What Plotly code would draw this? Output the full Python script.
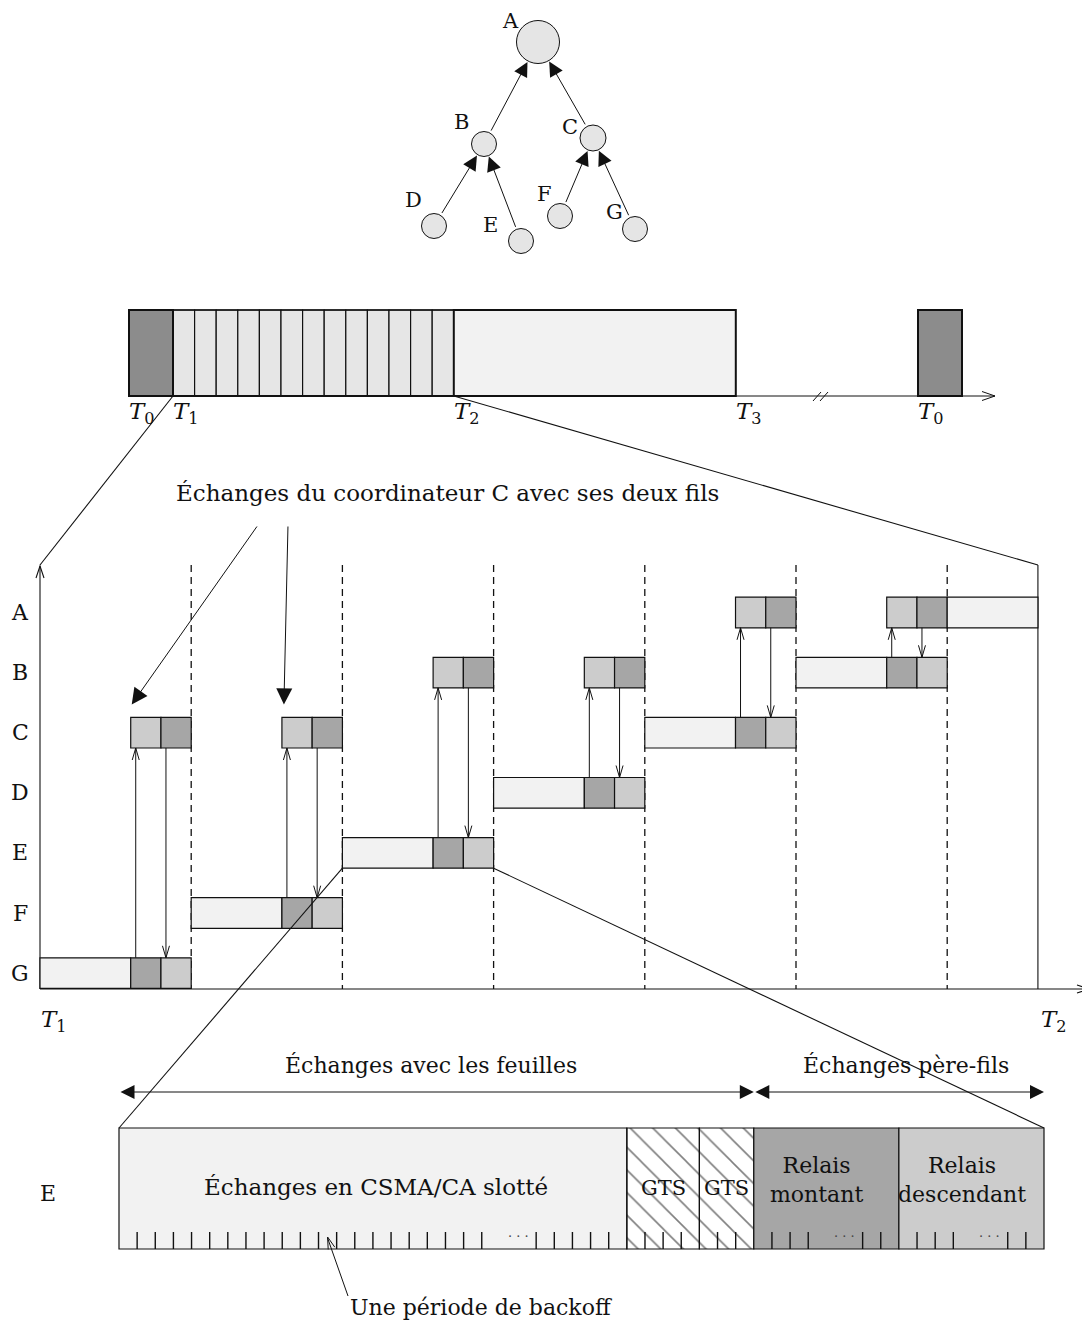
import math
import plotly.graph_objects as go

# ---------------- data ----------------
tree_nodes = ["A", "B", "C", "D", "E", "F", "G"]
tree_parent = [None, "A", "A", "B", "B", "C", "C"]

rows = ["A", "B", "C", "D", "E", "F", "G"]
slot_child = ["G", "F", "E", "D", "C", "B"]
slot_parent = ["C", "C", "B", "B", "A", "A"]
last_slot_node = "A"

top_cap_slots = 13
top_labels = ["T<sub>0</sub>", "T<sub>1</sub>", "T<sub>2</sub>", "T<sub>3</sub>", "T<sub>0</sub>"]

bottom_segments = ["Échanges en CSMA/CA slotté", "GTS", "GTS", "Relais<br>montant", "Relais<br>descendant"]
bottom_periods = [28, 4, 3, 8, 8]
bottom_skipped = [21, 22, 39, 40, 47, 48]
bottom_groups = ["Échanges avec les feuilles", "Échanges père-fils"]

title_text = "Échanges du coordinateur C avec ses deux fils"
backoff_text = "Une période de backoff"

# ---------------- layout constants ----------------
FONT = "DejaVu Serif"
PAGE_OFF = 8  # browser body margin
TREE_POS = {"A": (538, 42, 21.5), "B": (484, 144, 12.5), "C": (593, 138, 13),
            "D": (434, 226, 12.5), "E": (521, 241, 12.5), "F": (560, 216, 12.5),
            "G": (635, 229, 12.5)}
TREE_LAB = {"A": (510, 21), "B": (461, 122), "C": (570, 127), "D": (413, 200),
            "E": (490, 225), "F": (544, 194), "G": (614, 212)}

C_BEACON = "#8c8c8c"
C_SLOT = "#e6e6e6"
C_LIGHT = "#f2f2f2"
C_DARK = "#a6a6a6"
C_MID = "#cccccc"

shapes = []
annotations = []


def rect(x0, y0, x1, y1, fill, lw=1.2, color="#111"):
    shapes.append(dict(type="rect", xref="x", yref="y", x0=x0, y0=y0, x1=x1, y1=y1,
                       fillcolor=fill, line=dict(color=color, width=lw)))


def line(x0, y0, x1, y1, lw=1.1, color="#111", dash=None):
    d = dict(color=color, width=lw)
    if dash:
        d["dash"] = dash
    shapes.append(dict(type="line", xref="x", yref="y", x0=x0, y0=y0, x1=x1, y1=y1, line=d))


def vhead(tx, ty, fx, fy, L=11, W=4, lw=1.1):
    dx, dy = tx - fx, ty - fy
    n = math.hypot(dx, dy)
    dx, dy = dx / n, dy / n
    px, py = -dy, dx
    x1, y1 = tx - L * dx + W * px, ty - L * dy + W * py
    x2, y2 = tx - L * dx - W * px, ty - L * dy - W * py
    shapes.append(dict(type="path", xref="x", yref="y",
                       path=f"M {x1:.2f} {y1:.2f} L {tx:.2f} {ty:.2f} L {x2:.2f} {y2:.2f}",
                       line=dict(color="#111", width=lw)))


def text(x, y, s, size=21, xanchor="center", color="#111"):
    annotations.append(dict(x=x, y=y, xref="x", yref="y", text=s, showarrow=False,
                            xanchor=xanchor, yanchor="middle",
                            font=dict(family=FONT, size=size, color=color)))


def farrow(tx, ty, fx, fy, size=2.3, both=False):
    annotations.append(dict(x=tx, y=ty, ax=fx, ay=fy, xref="x", yref="y", axref="x", ayref="y",
                            text="", showarrow=True, arrowhead=2, arrowsize=size, arrowwidth=1,
                            arrowcolor="#111", standoff=0, startstandoff=0,
                            arrowside="end+start" if both else "end", startarrowhead=2,
                            startarrowsize=size, font=dict(size=10)))


# ---------------- tree ----------------
for n, p in zip(tree_nodes, tree_parent):
    if p is None:
        continue
    cx, cy, r = TREE_POS[n]
    px, py, pr = TREE_POS[p]
    dx, dy = px - cx, py - cy
    d = math.hypot(dx, dy)
    ux, uy = dx / d, dy / d
    farrow(px - ux * (pr + 1), py - uy * (pr + 1), cx + ux * (r + 1), cy + uy * (r + 1), size=2.9)
for n in tree_nodes:
    cx, cy, r = TREE_POS[n]
    shapes.append(dict(type="circle", xref="x", yref="y", x0=cx - r, y0=cy - r, x1=cx + r, y1=cy + r,
                       fillcolor="#e5e5e5", line=dict(color="#111", width=1)))
    lx, ly = TREE_LAB[n]
    text(lx, ly, n, size=21)

# ---------------- top timeline ----------------
TY0, TY1 = 310, 396
beacon_x0, beacon_w = 129, 44
slot_w = 21.6
cap_end = beacon_x0 + beacon_w + top_cap_slots * slot_w
cfp_end = cap_end + 282
beacon2_x0 = 918
line(cfp_end, TY1, 995, TY1, lw=1)
vhead(995, TY1, 900, TY1, L=13, W=4.5, lw=1)
line(813, 401, 821, 392, lw=1)
line(820, 401, 828, 392, lw=1)
for i in range(top_cap_slots):
    x0 = beacon_x0 + beacon_w + i * slot_w
    rect(x0, TY0, x0 + slot_w, TY1, C_SLOT, lw=1.2)
line(beacon_x0 + beacon_w, TY1, cap_end, TY1, lw=2)
line(beacon_x0 + beacon_w, TY0, cap_end, TY0, lw=1.5)
rect(cap_end, TY0, cfp_end, TY1, C_LIGHT, lw=2)
rect(beacon_x0, TY0, beacon_x0 + beacon_w, TY1, C_BEACON, lw=2)
rect(beacon2_x0, TY0, beacon2_x0 + beacon_w, TY1, C_BEACON, lw=2)
top_lab_x = [beacon_x0, beacon_x0 + beacon_w, cap_end, cfp_end, beacon2_x0]
for x, s in zip(top_lab_x, top_labels):
    s2 = "<i>T</i>" + s[1:]
    text(x - 2, 413, s2, size=23, xanchor="left")

# ---------------- middle schedule ----------------
MX0, MSLOT = 40, 151.2
MTOP, MBASE = 565, 989
ROW0, ROWSTEP, HALF = 612.5, 60.1, 15.3
U = MSLOT / 5
MEND = MX0 + 6 * MSLOT + 3 * U
row_y = {r: ROW0 + i * ROWSTEP for i, r in enumerate(rows)}

# zoom lines from top bar
line(beacon_x0 + beacon_w, TY1, MX0, MTOP, lw=1.1)
line(cap_end, TY1, MEND, MTOP, lw=1.1)

for k in range(1, 7):
    line(MX0 + k * MSLOT, MTOP, MX0 + k * MSLOT, MBASE, lw=1.3, dash="7px,5px")
line(MX0, MBASE, MX0, MTOP + 1, lw=1.1)
vhead(MX0, MTOP + 1, MX0, MBASE, L=12, W=4)
line(MEND, MTOP, MEND, MBASE, lw=1.1)
line(MX0, MBASE, 1089, MBASE, lw=1.1)
vhead(1089, MBASE, MX0, MBASE, L=12, W=4)

for i, r in enumerate(rows):
    text(20, row_y[r], r, size=22)

for k, (c, p) in enumerate(zip(slot_child, slot_parent)):
    s0 = MX0 + k * MSLOT
    cy, py = row_y[c], row_y[p]
    rect(s0, cy - HALF, s0 + 3 * U, cy + HALF, C_LIGHT)
    rect(s0 + 3 * U, cy - HALF, s0 + 4 * U, cy + HALF, C_DARK)
    rect(s0 + 4 * U, cy - HALF, s0 + 5 * U, cy + HALF, C_MID)
    rect(s0 + 3 * U, py - HALF, s0 + 4 * U, py + HALF, C_MID)
    rect(s0 + 4 * U, py - HALF, s0 + 5 * U, py + HALF, C_DARK)
    xu, xd = s0 + 3 * U + 5, s0 + 4 * U + 5
    line(xu, cy - HALF, xu, py + HALF, lw=1)
    vhead(xu, py + HALF, xu, cy - HALF, L=12, W=3.5, lw=1)
    line(xd, py + HALF, xd, cy - HALF, lw=1)
    vhead(xd, cy - HALF, xd, py + HALF, L=12, W=3.5, lw=1)
ly = row_y[last_slot_node]
rect(MX0 + 6 * MSLOT, ly - HALF, MEND, ly + HALF, C_LIGHT)

text(MX0 - 1, 1021, "<i>T</i><sub>1</sub>", size=23, xanchor="left")
text(MEND + 1, 1021, "<i>T</i><sub>2</sub>", size=23, xanchor="left")

text(447, 493, title_text, size=23)
farrow(MX0 + 0 * MSLOT + 3 * U + 1, row_y["C"] - HALF - 13, 258, 525, size=3.2)
farrow(MX0 + 1 * MSLOT + 3 * U + 2, row_y["C"] - HALF - 13, 288, 525, size=3.2)

# ---------------- bottom detail ----------------
BX0, BX1 = 119, 1044
BY0, BY1 = 1128, 1249
BP = (BX1 - BX0) / sum(bottom_periods)
e_idx = slot_child.index("E")
line(MX0 + e_idx * MSLOT, row_y["E"] + HALF, BX0, BY0, lw=1.1)
line(MX0 + (e_idx + 1) * MSLOT, row_y["E"] + HALF, BX1, BY0, lw=1.1)

bounds = [0]
for n in bottom_periods:
    bounds.append(bounds[-1] + n)
fills = [C_LIGHT, None, None, C_DARK, C_MID]
gts_x, gts_w = [], []
for i, (lab, f) in enumerate(zip(bottom_segments, fills)):
    x0 = BX0 + bounds[i] * BP
    x1 = BX0 + bounds[i + 1] * BP
    if f is None:
        gts_x.append(x0)
        gts_w.append(x1 - x0)
        rect(x0, BY0, x1, BY1, "rgba(0,0,0,0)", lw=1.2)
    else:
        rect(x0, BY0, x1, BY1, f, lw=1.2)

for k in range(1, bounds[-1]):
    if k in bounds or k in bottom_skipped:
        continue
    x = BX0 + k * BP
    line(x, BY1, x, BY1 - 17, lw=1.4)
for a in range(0, len(bottom_skipped), 2):
    x = BX0 + (bottom_skipped[a] + 1) * BP
    text(x, BY1 - 13, "· · ·", size=13, color="#444")

text(376, 1187, bottom_segments[0], size=23)
text(BX0 + (bounds[1] + bounds[2]) / 2 * BP, 1188, bottom_segments[1], size=21)
text(BX0 + (bounds[2] + bounds[3]) / 2 * BP, 1188, bottom_segments[2], size=21)
text(BX0 + (bounds[3] + bounds[4]) / 2 * BP - 10, 1180, bottom_segments[3], size=22)
text(BX0 + (bounds[4] + bounds[5]) / 2 * BP - 9, 1180, bottom_segments[4], size=22)
text(48, 1193, "E", size=22)

split_x = BX0 + bounds[3] * BP
farrow(split_x, 1092, BX0, 1092, size=2.8, both=True)
farrow(BX1, 1092, split_x, 1092, size=2.8, both=True)
text(431, 1065, bottom_groups[0], size=22)
text(906, 1065, bottom_groups[1], size=22)

bx = BX0 + 11.5 * BP
line(348, 1296, bx, 1238, lw=1)
vhead(bx, 1237, 348, 1296, L=12, W=3.5, lw=1)
text(348, 1307, backoff_text, size=22, xanchor="left")

fig = go.Figure()
fig.add_trace(go.Bar(
    orientation="h", y=[(BY0 + BY1) / 2] * len(gts_x), base=gts_x, x=gts_w,
    width=[BY1 - BY0] * len(gts_x),
    marker=dict(color="white", line=dict(width=0),
                pattern=dict(shape="\\", size=16, solidity=0.1, fgcolor="#000", bgcolor="white",
                              fillmode="overlay")),
    hoverinfo="skip", showlegend=False))

W, H = 1090, 1323
fig.update_layout(
    width=W - PAGE_OFF, height=H - PAGE_OFF, margin=dict(l=0, r=0, t=0, b=0),
    paper_bgcolor="white", plot_bgcolor="white", showlegend=False,
    xaxis=dict(range=[PAGE_OFF, W], visible=False, fixedrange=True),
    yaxis=dict(range=[H, PAGE_OFF], visible=False, fixedrange=True),
    shapes=shapes, annotations=annotations,
)
fig.write_html("out.html")
